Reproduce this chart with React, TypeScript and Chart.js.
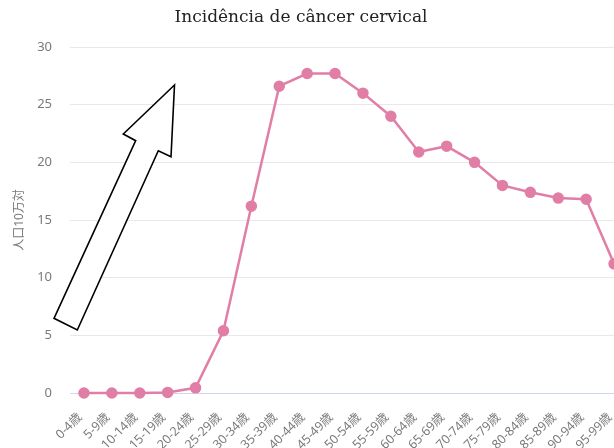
import React, { useEffect, useRef } from "react";
import { Chart, registerables } from "chart.js";

Chart.register(...registerables);

const categories = [
  "0-4歳", "5-9歳", "10-14歳", "15-19歳", "20-24歳", "25-29歳", "30-34歳",
  "35-39歳", "40-44歳", "45-49歳", "50-54歳", "55-59歳", "60-64歳", "65-69歳",
  "70-74歳", "75-79歳", "80-84歳", "85-89歳", "90-94歳", "95-99歳",
];
const incidence = [
  0, 0, 0, 0.05, 0.45, 5.4, 16.2, 26.6, 27.7, 27.7, 26.0, 24.0, 20.9, 21.4,
  20.0, 18.0, 17.4, 16.9, 16.8, 11.2,
];
const yTicks = [0, 5, 10, 15, 20, 25, 30];
const titleText = "Incidência de câncer cervical";
const yAxisTitle = "人口10万対";

const FONT = "'Noto Sans', 'Noto Sans CJK JP', sans-serif";

export default function App() {
  const ref = useRef<HTMLCanvasElement | null>(null);
  useEffect(() => {
    if (!ref.current) return;
    const chart = new Chart(ref.current, {
      type: "line",
      data: {
        labels: categories,
        datasets: [
          {
            data: incidence,
            borderColor: "#e17ea6",
            backgroundColor: "#e17ea6",
            pointBackgroundColor: "#e17ea6",
            pointBorderColor: "#e17ea6",
            pointRadius: 4.5,
            borderWidth: 2.5,
            tension: 0,
            clip: false as any,
          },
        ],
      },
      options: {
        animation: false,
        responsive: false,
        maintainAspectRatio: false,
        layout: { padding: { top: 47, left: 0, right: 12, bottom: 0 } },
        plugins: { legend: { display: false }, tooltip: { enabled: false } },
        scales: {
          x: {
            type: "category",
            offset: true,
            grid: { display: false },
            border: { display: false },
            ticks: {
              minRotation: 45,
              maxRotation: 45,
              autoSkip: false,
              color: "#7a7a7a",
              padding: 9,
              labelOffset: -4,
              font: { family: FONT, size: 12.5 },
            },
            afterFit: (s: any) => {
              s.height = 55;
            },
          },
          y: {
            min: 0,
            max: 30,
            afterBuildTicks: (s: any) => {
              s.ticks = yTicks.map((v) => ({ value: v }));
            },
            grid: {
              drawTicks: false,
              color: (c: any) => (c.tick && c.tick.value === 0 ? "#cdd7f2" : "#e8e8e8"),
              lineWidth: 1,
            },
            border: { display: false },
            ticks: {
              color: "#7a7a7a",
              padding: 18,
              font: { family: FONT, size: 13 },
            },
            title: {
              display: true,
              text: yAxisTitle,
              color: "#7a7a7a",
              font: { family: FONT, size: 12 },
              padding: { top: 12, bottom: 0 },
            },
            afterFit: (s: any) => {
              s.width = 70;
            },
          },
        },
      },
    });
    return () => chart.destroy();
  }, []);

  return (
    <div
      style={{
        position: "fixed",
        left: 0,
        top: 0,
        width: 614,
        height: 448,
        overflow: "hidden",
        background: "#fff",
      }}
    >
      <canvas
        ref={ref}
        width={640}
        height={448}
        style={{ position: "absolute", left: 0, top: 0, width: 640, height: 448 }}
      />
      <div
        style={{
          position: "absolute",
          left: 0,
          width: 602,
          top: 4,
          textAlign: "center",
          fontFamily: "'DejaVu Serif', serif",
          fontSize: 17,
          color: "#222",
          lineHeight: "24px",
        }}
      >
        {titleText}
      </div>
      <svg
        width={614}
        height={448}
        style={{ position: "absolute", left: 0, top: 0, pointerEvents: "none" }}
      >
        <polygon
          points="174.5,85 123.3,134 135.7,140.7 54,318.3 77.3,330 158.3,150.7 171,156.7"
          fill="#fff"
          stroke="#000"
          strokeWidth={1.6}
          strokeLinejoin="miter"
        />
      </svg>
    </div>
  );
}
